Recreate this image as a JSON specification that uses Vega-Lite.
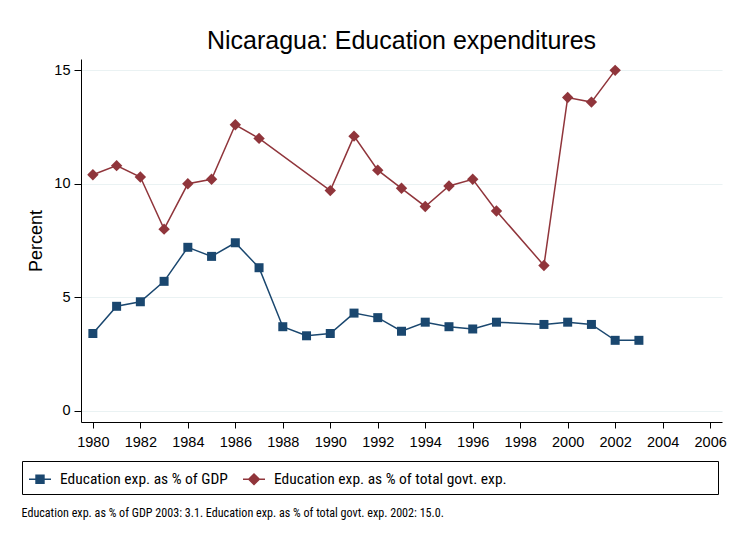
{
  "$schema": "https://vega.github.io/schema/vega-lite/v6.json",
  "width": 641,
  "height": 363,
  "autosize": {"type": "none"},
  "padding": {"left": 81, "top": 59, "right": 9, "bottom": 115},
  "background": "white",
  "title": {
    "text": "Nicaragua: Education expenditures",
    "font": "Liberation Sans",
    "fontSize": 25,
    "fontWeight": "normal",
    "color": "black",
    "anchor": "middle",
    "baseline": "alphabetic",
    "offset": 9,
    "dy": 24
  },
  "config": {
    "view": {"stroke": null},
    "axis": {
      "domainColor": "black",
      "tickColor": "black",
      "labelColor": "black",
      "titleColor": "black",
      "labelFont": "Liberation Sans",
      "titleFont": "Liberation Sans",
      "titleFontWeight": "normal"
    }
  },
  "data": {
    "values": [
      {"year": 1980, "value": 3.4, "series": "Education exp. as % of GDP"},
      {"year": 1981, "value": 4.6, "series": "Education exp. as % of GDP"},
      {"year": 1982, "value": 4.8, "series": "Education exp. as % of GDP"},
      {"year": 1983, "value": 5.7, "series": "Education exp. as % of GDP"},
      {"year": 1984, "value": 7.2, "series": "Education exp. as % of GDP"},
      {"year": 1985, "value": 6.8, "series": "Education exp. as % of GDP"},
      {"year": 1986, "value": 7.4, "series": "Education exp. as % of GDP"},
      {"year": 1987, "value": 6.3, "series": "Education exp. as % of GDP"},
      {"year": 1988, "value": 3.7, "series": "Education exp. as % of GDP"},
      {"year": 1989, "value": 3.3, "series": "Education exp. as % of GDP"},
      {"year": 1990, "value": 3.4, "series": "Education exp. as % of GDP"},
      {"year": 1991, "value": 4.3, "series": "Education exp. as % of GDP"},
      {"year": 1992, "value": 4.1, "series": "Education exp. as % of GDP"},
      {"year": 1993, "value": 3.5, "series": "Education exp. as % of GDP"},
      {"year": 1994, "value": 3.9, "series": "Education exp. as % of GDP"},
      {"year": 1995, "value": 3.7, "series": "Education exp. as % of GDP"},
      {"year": 1996, "value": 3.6, "series": "Education exp. as % of GDP"},
      {"year": 1997, "value": 3.9, "series": "Education exp. as % of GDP"},
      {"year": 1999, "value": 3.8, "series": "Education exp. as % of GDP"},
      {"year": 2000, "value": 3.9, "series": "Education exp. as % of GDP"},
      {"year": 2001, "value": 3.8, "series": "Education exp. as % of GDP"},
      {"year": 2002, "value": 3.1, "series": "Education exp. as % of GDP"},
      {"year": 2003, "value": 3.1, "series": "Education exp. as % of GDP"},
      {"year": 1980, "value": 10.4, "series": "Education exp. as % of total govt. exp."},
      {"year": 1981, "value": 10.8, "series": "Education exp. as % of total govt. exp."},
      {"year": 1982, "value": 10.3, "series": "Education exp. as % of total govt. exp."},
      {"year": 1983, "value": 8.0, "series": "Education exp. as % of total govt. exp."},
      {"year": 1984, "value": 10.0, "series": "Education exp. as % of total govt. exp."},
      {"year": 1985, "value": 10.2, "series": "Education exp. as % of total govt. exp."},
      {"year": 1986, "value": 12.6, "series": "Education exp. as % of total govt. exp."},
      {"year": 1987, "value": 12.0, "series": "Education exp. as % of total govt. exp."},
      {"year": 1990, "value": 9.7, "series": "Education exp. as % of total govt. exp."},
      {"year": 1991, "value": 12.1, "series": "Education exp. as % of total govt. exp."},
      {"year": 1992, "value": 10.6, "series": "Education exp. as % of total govt. exp."},
      {"year": 1993, "value": 9.8, "series": "Education exp. as % of total govt. exp."},
      {"year": 1994, "value": 9.0, "series": "Education exp. as % of total govt. exp."},
      {"year": 1995, "value": 9.9, "series": "Education exp. as % of total govt. exp."},
      {"year": 1996, "value": 10.2, "series": "Education exp. as % of total govt. exp."},
      {"year": 1997, "value": 8.8, "series": "Education exp. as % of total govt. exp."},
      {"year": 1999, "value": 6.4, "series": "Education exp. as % of total govt. exp."},
      {"year": 2000, "value": 13.8, "series": "Education exp. as % of total govt. exp."},
      {"year": 2001, "value": 13.6, "series": "Education exp. as % of total govt. exp."},
      {"year": 2002, "value": 15.0, "series": "Education exp. as % of total govt. exp."}
    ]
  },
  "encoding": {
    "x": {
      "field": "year",
      "type": "quantitative",
      "scale": {"domain": [1979.5, 2006.5], "nice": false, "zero": false},
      "axis": {
        "values": [1980, 1982, 1984, 1986, 1988, 1990, 1992, 1994, 1996, 1998, 2000, 2002, 2004, 2006],
        "format": "d",
        "grid": false,
        "labelFontSize": 14.5,
        "labelPadding": 7,
        "tickSize": 6,
        "labelFlush": false,
        "labelOverlap": false,
        "title": "Education exp. as % of GDP 2003: 3.1. Education exp. as % of total govt. exp. 2002: 15.0.",
        "titleFont": "Roboto Condensed",
        "titleFontSize": 12.1,
        "titleX": -60,
        "titleY": 94,
        "titleAlign": "left",
        "titleBaseline": "alphabetic",
        "titleAnchor": "start"
      }
    },
    "y": {
      "field": "value",
      "type": "quantitative",
      "scale": {"domain": [-0.5, 15.5], "nice": false, "zero": false},
      "axis": {
        "values": [0, 5, 10, 15],
        "grid": true,
        "gridColor": "#eaf2f3",
        "gridWidth": 1.2,
        "labelAngle": 0,
        "labelFontSize": 14.5,
        "labelPadding": 4,
        "tickSize": 7,
        "title": "Percent",
        "titleFontSize": 18,
        "titlePadding": 8
      }
    },
    "color": {
      "field": "series",
      "type": "nominal",
      "scale": {
        "domain": ["Education exp. as % of GDP", "Education exp. as % of total govt. exp."],
        "range": ["#1a476f", "#90353b"]
      },
      "legend": {
        "orient": "none",
        "legendX": -59,
        "legendY": 402,
        "direction": "horizontal",
        "title": null,
        "strokeColor": "black",
        "fillColor": "white",
        "padding": 6,
        "cornerRadius": 0,
        "labelFont": "Roboto Condensed",
        "labelFontSize": 15.5,
        "labelColor": "black",
        "labelLimit": 400,
        "labelOffset": 8,
        "columnPadding": 12,
        "symbolSize": 484,
        "symbolStrokeWidth": 1.5,
        "encode": {
          "symbols": {
            "update": {
              "shape": {"signal": "datum.index === 0 ? 'M-1,0H1M-0.36,-0.36H0.36V0.36H-0.36Z' : 'M-1,0H1M0,-0.48L0.48,0L0,0.48L-0.48,0ZM41.3,0'"},
              "fill": {"signal": "datum.index === 0 ? '#1a476f' : '#90353b'"},
              "stroke": {"signal": "datum.index === 0 ? '#1a476f' : '#90353b'"},
              "opacity": {"value": 1},
              "fillOpacity": {"value": 1},
              "strokeOpacity": {"value": 1}
            }
          }
        }
      }
    }
  },
  "layer": [
    {
      "mark": {"type": "line", "strokeWidth": 1.5}
    },
    {
      "transform": [{"filter": "datum.series === 'Education exp. as % of GDP'"}],
      "mark": {"type": "point", "shape": "square", "filled": true, "size": 81, "opacity": 1, "strokeWidth": 0}
    },
    {
      "transform": [{"filter": "datum.series === 'Education exp. as % of total govt. exp.'"}],
      "mark": {"type": "point", "shape": "diamond", "filled": true, "size": 130, "opacity": 1, "strokeWidth": 0}
    }
  ]
}
